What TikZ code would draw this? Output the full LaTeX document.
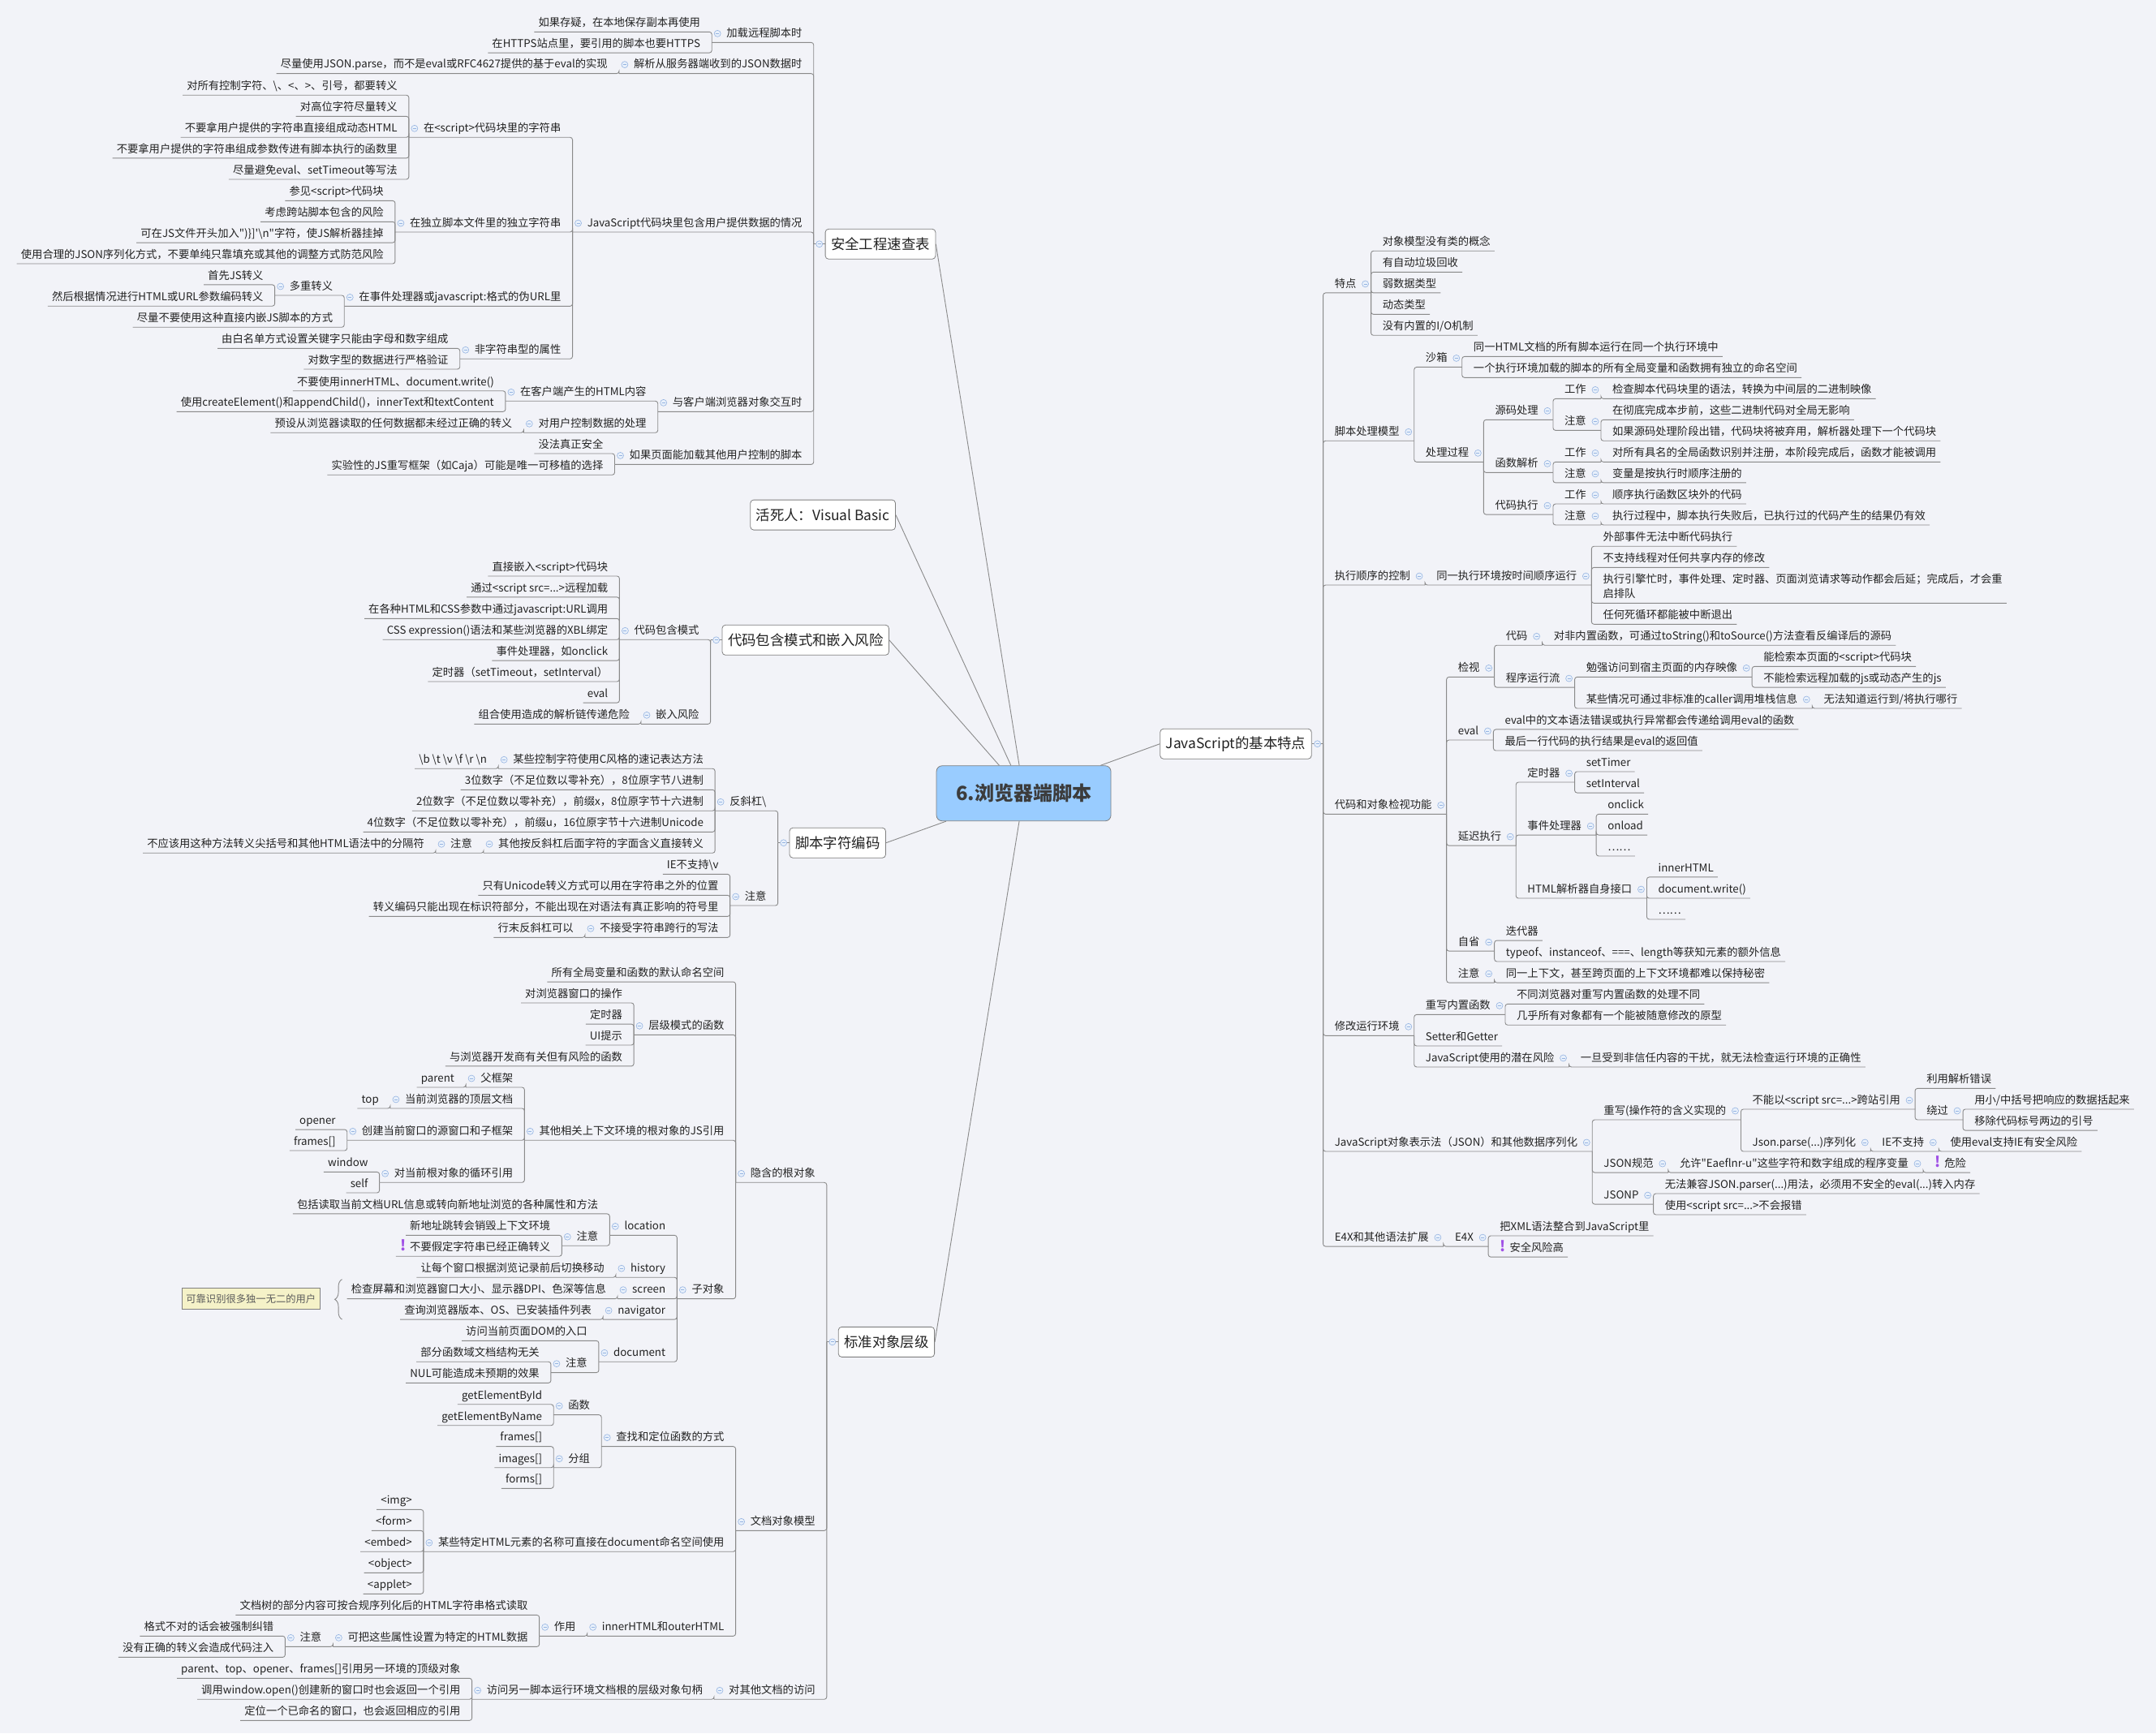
\documentclass[tikz,border=0pt]{standalone}
\usepackage{fontspec}
\setmainfont{Noto Sans CJK SC}
\usetikzlibrary{positioning,backgrounds,decorations.pathreplacing}
\definecolor{bgc}{RGB}{242,243,248}
\definecolor{linec}{RGB}{138,138,138}
\definecolor{ink}{RGB}{34,34,34}
\definecolor{boxline}{RGB}{128,128,128}
\definecolor{rootfill}{RGB}{153,204,255}
\definecolor{rootink}{RGB}{60,60,60}
\definecolor{iconfill}{RGB}{232,240,251}
\definecolor{iconline}{RGB}{150,180,225}
\definecolor{summfill}{RGB}{245,242,200}
\definecolor{summink}{RGB}{90,90,90}
\definecolor{alert}{RGB}{160,80,230}
\newcommand{\warnmark}{{\color{alert}\fontsize{18}{18}\selectfont\bfseries !}\hspace{5pt}}
\tikzset{
  item/.style={inner xsep=0pt, inner ysep=3.5pt, text height=10pt, text depth=3pt,
    font=\fontsize{13.3}{18.6}\selectfont, text=ink},
  lleaf/.style={item, anchor=south east,
    execute at begin node=\hspace{5pt}, execute at end node=\hspace{14pt}},
  lnode/.style={item, anchor=south east,
    execute at begin node=\hspace{18pt}, execute at end node=\hspace{14pt}},
  rleaf/.style={item, anchor=south west,
    execute at begin node=\hspace{14pt}, execute at end node=\hspace{5pt}},
  rnode/.style={item, anchor=south west,
    execute at begin node=\hspace{14pt}, execute at end node=\hspace{18pt}},
  icon/.style={circle, draw=iconline, fill=iconfill, minimum size=8pt, inner sep=0pt, line width=0.6pt,
    path picture={\draw[iconline, line width=0.8pt] ([xshift=-2pt]path picture bounding box.center)
      -- ([xshift=2pt]path picture bounding box.center);}},
  topic/.style={draw=boxline, fill=white, rounded corners=4pt, inner xsep=7pt, minimum height=37pt,
    line width=0.8pt, font=\fontsize{17.4}{20}\selectfont, text=ink},
  root/.style={draw=boxline, fill=rootfill, rounded corners=7pt, minimum width=215pt, minimum height=68pt,
    line width=0.8pt, font=\fontsize{24}{28}\selectfont\bfseries, text=rootink},
  lconn/.style={draw=linec, line width=0.9pt, rounded corners=3pt},
  cline/.style={draw=linec, line width=0.9pt},
  brace/.style={draw=linec, line width=0.9pt, decorate, decoration={brace, amplitude=9pt}},
  summ/.style={draw=boxline, fill=summfill, line width=0.6pt, minimum height=26pt, inner xsep=5pt,
    font=\fontsize{12.3}{14}\selectfont, text=summink},
}
\begin{document}
\begin{tikzpicture}[x=1.6945pt,y=-1.6945pt]
      \useasboundingbox (0,0) rectangle (1568,1260.6);
      \node[root] (c) at (744.5,577) {6.浏览器端脚本};
      \node[topic, anchor=west] (sec) at (600,177.5) {安全工程速查表};
      \node[topic, anchor=west] (vb) at (545.5,374.5) {活死人：Visual Basic};
      \node[topic, anchor=west] (emb) at (525,465.5) {代码包含模式和嵌入风险};
      \node[topic, anchor=west] (enc) at (574,613) {脚本字符编码};
      \node[topic, anchor=west] (std) at (609.5,976) {标准对象层级};
      \node[topic, anchor=east] (jsb) at (954,541) {JavaScript的基本特点};
      \coordinate (secb) at ([xshift=-14pt]sec.west);
      \coordinate (embb) at ([xshift=-14pt]emb.west);
      \coordinate (encb) at ([xshift=-14pt]enc.west);
      \coordinate (stdb) at ([xshift=-14pt]std.west);
      \coordinate (jsbb) at ([xshift=14pt]jsb.east);

      \node[lnode] (s1) at (secb |- 0,30.9) {加载远程脚本时};
      \node[lleaf] (s1a) at (s1.south west |- 0,23.2) {如果存疑，在本地保存副本再使用};
      \node[lleaf] (s1b) at (s1.south west |- 0,38.4) {在HTTPS站点里，要引用的脚本也要HTTPS};
      \node[lnode] (s2) at (secb |- 0,53.5) {解析从服务器端收到的JSON数据时};
      \node[lleaf] (s2a) at (s2.south west |- 0,53.5) {尽量使用JSON.parse，而不是eval或RFC4627提供的基于eval的实现};
      \node[lnode] (s3) at (secb |- 0,168.8) {JavaScript代码块里包含用户提供数据的情况};
      \node[lnode] (s3a) at (s3.south west |- 0,99.9) {在<script>代码块里的字符串};
      \node[lleaf] (s3a1) at (s3a.south west |- 0,69.2) {对所有控制字符、\textbackslash、<、>、引号，都要转义};
      \node[lleaf] (s3a2) at (s3a.south west |- 0,84.6) {对高位字符尽量转义};
      \node[lleaf] (s3a3) at (s3a.south west |- 0,99.9) {不要拿用户提供的字符串直接组成动态HTML};
      \node[lleaf] (s3a4) at (s3a.south west |- 0,115) {不要拿用户提供的字符串组成参数传进有脚本执行的函数里};
      \node[lleaf] (s3a5) at (s3a.south west |- 0,130.4) {尽量避免eval、setTimeout等写法};
      \node[lnode] (s3b) at (s3.south west |- 0,168.8) {在独立脚本文件里的独立字符串};
      \node[lleaf] (s3b1) at (s3b.south west |- 0,146) {参见<script>代码块};
      \node[lleaf] (s3b2) at (s3b.south west |- 0,161.3) {考虑跨站脚本包含的风险};
      \node[lleaf] (s3b3) at (s3b.south west |- 0,176.5) {可在JS文件开头加入\textquotedbl)\}]\textquotesingle\textbackslash n\textquotedbl 字符，使JS解析器挂掉};
      \node[lleaf] (s3b4) at (s3b.south west |- 0,191.8) {使用合理的JSON序列化方式，不要单纯只靠填充或其他的调整方式防范风险};
      \node[lnode] (s3c) at (s3.south west |- 0,222.7) {在事件处理器或javascript:格式的伪URL里};
      \node[lnode] (s3c1) at (s3c.south west |- 0,214.8) {多重转义};
      \node[lleaf] (s3c1a) at (s3c1.south west |- 0,207.1) {首先JS转义};
      \node[lleaf] (s3c1b) at (s3c1.south west |- 0,222.6) {然后根据情况进行HTML或URL参数编码转义};
      \node[lleaf] (s3c2) at (s3c.south west |- 0,238) {尽量不要使用这种直接内嵌JS脚本的方式};
      \node[lnode] (s3d) at (s3.south west |- 0,261) {非字符串型的属性};
      \node[lleaf] (s3d1) at (s3d.south west |- 0,253.4) {由白名单方式设置关键字只能由字母和数字组成};
      \node[lleaf] (s3d2) at (s3d.south west |- 0,268.5) {对数字型的数据进行严格验证};
      \node[lnode] (s4) at (secb |- 0,299.4) {与客户端浏览器对象交互时};
      \node[lnode] (s4a) at (s4.south west |- 0,291.7) {在客户端产生的HTML内容};
      \node[lleaf] (s4a1) at (s4a.south west |- 0,284.3) {不要使用innerHTML、document.write()};
      \node[lleaf] (s4a2) at (s4a.south west |- 0,299.4) {使用createElement()和appendChild()，innerText和textContent};
      \node[lnode] (s4b) at (s4.south west |- 0,314.7) {对用户控制数据的处理};
      \node[lleaf] (s4b1) at (s4b.south west |- 0,314.7) {预设从浏览器读取的任何数据都未经过正确的转义};
      \node[lnode] (s5) at (secb |- 0,337.8) {如果页面能加载其他用户控制的脚本};
      \node[lleaf] (s5a) at (s5.south west |- 0,329.9) {没法真正安全};
      \node[lleaf] (s5b) at (s5.south west |- 0,345.4) {实验性的JS重写框架（如Caja）可能是唯一可移植的选择};

      \node[lnode] (e1) at (embb |- 0,465.2) {代码包含模式};
      \node[lleaf] (e1a) at (e1.south west |- 0,419) {直接嵌入<script>代码块};
      \node[lleaf] (e1b) at (e1.south west |- 0,434.3) {通过<script src=...>远程加载};
      \node[lleaf] (e1c) at (e1.south west |- 0,449.9) {在各种HTML和CSS参数中通过javascript:URL调用};
      \node[lleaf] (e1d) at (e1.south west |- 0,465.2) {CSS expression()语法和某些浏览器的XBL绑定};
      \node[lleaf] (e1e) at (e1.south west |- 0,480.4) {事件处理器，如onclick};
      \node[lleaf] (e1f) at (e1.south west |- 0,495.7) {定时器（setTimeout，setInterval）};
      \node[lleaf] (e1g) at (e1.south west |- 0,511.1) {eval};
      \node[lnode] (e2) at (embb |- 0,526.6) {嵌入风险};
      \node[lleaf] (e2a) at (e2.south west |- 0,526.6) {组合使用造成的解析链传递危险};

      \node[lnode] (c1) at (encb |- 0,589.7) {反斜杠\textbackslash};
      \node[lnode] (c1a) at (c1.south west |- 0,559) {某些控制字符使用C风格的速记表达方法};
      \node[lleaf] (c1a1) at (c1a.south west |- 0,559) {\textbackslash b \textbackslash t \textbackslash v \textbackslash f \textbackslash r \textbackslash n};
      \node[lleaf] (c1b) at (c1.south west |- 0,574.4) {3位数字（不足位数以零补充），8位原字节八进制};
      \node[lleaf] (c1c) at (c1.south west |- 0,589.7) {2位数字（不足位数以零补充），前缀x，8位原字节十六进制};
      \node[lleaf] (c1d) at (c1.south west |- 0,605.1) {4位数字（不足位数以零补充），前缀u，16位原字节十六进制Unicode};
      \node[lnode] (c1e) at (c1.south west |- 0,620.4) {其他按反斜杠后面字符的字面含义直接转义};
      \node[lnode] (c1e1) at (c1e.south west |- 0,620.4) {注意};
      \node[lleaf] (c1e1a) at (c1e1.south west |- 0,620.4) {不应该用这种方法转义尖括号和其他HTML语法中的分隔符};
      \node[lnode] (c2) at (encb |- 0,658.6) {注意};
      \node[lleaf] (c2a) at (c2.south west |- 0,635.8) {IE不支持\textbackslash v};
      \node[lleaf] (c2b) at (c2.south west |- 0,651.1) {只有Unicode转义方式可以用在字符串之外的位置};
      \node[lleaf] (c2c) at (c2.south west |- 0,666.5) {转义编码只能出现在标识符部分，不能出现在对语法有真正影响的符号里};
      \node[lnode] (c2d) at (c2.south west |- 0,681.8) {不接受字符串跨行的写法};
      \node[lleaf] (c2d1) at (c2d.south west |- 0,681.8) {行末反斜杠可以};

      \node[lnode] (t1) at (stdb |- 0,860) {隐含的根对象};
      \node[lleaf] (t1a) at (t1.south west |- 0,714.1) {所有全局变量和函数的默认命名空间};
      \node[lnode] (t1b) at (t1.south west |- 0,752.6) {层级模式的函数};
      \node[lleaf] (t1b1) at (t1b.south west |- 0,729.4) {对浏览器窗口的操作};
      \node[lleaf] (t1b2) at (t1b.south west |- 0,744.8) {定时器};
      \node[lleaf] (t1b3) at (t1b.south west |- 0,760.1) {UI提示};
      \node[lleaf] (t1b4) at (t1b.south west |- 0,775.4) {与浏览器开发商有关但有风险的函数};
      \node[lnode] (t1c) at (t1.south west |- 0,829.3) {其他相关上下文环境的根对象的JS引用};
      \node[lnode] (t1c1) at (t1c.south west |- 0,790.8) {父框架};
      \node[lleaf] (t1c1a) at (t1c1.south west |- 0,790.8) {parent};
      \node[lnode] (t1c2) at (t1c.south west |- 0,806.1) {当前浏览器的顶层文档};
      \node[lleaf] (t1c2a) at (t1c2.south west |- 0,806.1) {top};
      \node[lnode] (t1c3) at (t1c.south west |- 0,829.3) {创建当前窗口的源窗口和子框架};
      \node[lleaf] (t1c3a) at (t1c3.south west |- 0,821.5) {opener};
      \node[lleaf] (t1c3b) at (t1c3.south west |- 0,836.8) {frames[]};
      \node[lnode] (t1c4) at (t1c.south west |- 0,860) {对当前根对象的循环引用};
      \node[lleaf] (t1c4a) at (t1c4.south west |- 0,852.4) {window};
      \node[lleaf] (t1c4b) at (t1c4.south west |- 0,867.5) {self};
      \node[lnode] (t1d) at (t1.south west |- 0,944.6) {子对象};
      \node[lnode] (t1d1) at (t1d.south west |- 0,898.4) {location};
      \node[lleaf] (t1d1a) at (t1d1.south west |- 0,882.8) {包括读取当前文档URL信息或转向新地址浏览的各种属性和方法};
      \node[lnode] (t1d1b) at (t1d1.south west |- 0,906) {注意};
      \node[lleaf] (t1d1b1) at (t1d1b.south west |- 0,898.4) {新地址跳转会销毁上下文环境};
      \node[lleaf] (t1d1b2) at (t1d1b.south west |- 0,913.7) {\warnmark 不要假定字符串已经正确转义};
      \node[lnode] (t1d2) at (t1d.south west |- 0,929) {history};
      \node[lleaf] (t1d2a) at (t1d2.south west |- 0,929) {让每个窗口根据浏览记录前后切换移动};
      \node[lnode] (t1d3) at (t1d.south west |- 0,944.6) {screen};
      \node[lleaf] (t1d3a) at (t1d3.south west |- 0,944.6) {检查屏幕和浏览器窗口大小、显示器DPI、色深等信息};
      \node[lnode] (t1d4) at (t1d.south west |- 0,959.6) {navigator};
      \node[lleaf] (t1d4a) at (t1d4.south west |- 0,959.6) {查询浏览器版本、OS、已安装插件列表};
      \node[lnode] (t1d5) at (t1d.south west |- 0,990.4) {document};
      \node[lleaf] (t1d5a) at (t1d5.south west |- 0,975.1) {访问当前页面DOM的入口};
      \node[lnode] (t1d5b) at (t1d5.south west |- 0,998.3) {注意};
      \node[lleaf] (t1d5b1) at (t1d5b.south west |- 0,990.4) {部分函数域文档结构无关};
      \node[lleaf] (t1d5b2) at (t1d5b.south west |- 0,1005.8) {NUL可能造成未预期的效果};
      \node[lnode] (t2) at (stdb |- 0,1113.2) {文档对象模型};
      \node[lnode] (t2a) at (t2.south west |- 0,1052) {查找和定位函数的方式};
      \node[lnode] (t2a1) at (t2a.south west |- 0,1029) {函数};
      \node[lleaf] (t2a1a) at (t2a1.south west |- 0,1021.4) {getElementById};
      \node[lleaf] (t2a1b) at (t2a1.south west |- 0,1036.7) {getElementByName};
      \node[lnode] (t2a2) at (t2a.south west |- 0,1067.4) {分组};
      \node[lleaf] (t2a2a) at (t2a2.south west |- 0,1052) {frames[]};
      \node[lleaf] (t2a2b) at (t2a2.south west |- 0,1067.4) {images[]};
      \node[lleaf] (t2a2c) at (t2a2.south west |- 0,1082.5) {forms[]};
      \node[lnode] (t2b) at (t2.south west |- 0,1128.5) {某些特定HTML元素的名称可直接在document命名空间使用};
      \node[lleaf] (t2b1) at (t2b.south west |- 0,1097.9) {<img>};
      \node[lleaf] (t2b2) at (t2b.south west |- 0,1113.2) {<form>};
      \node[lleaf] (t2b3) at (t2b.south west |- 0,1128.5) {<embed>};
      \node[lleaf] (t2b4) at (t2b.south west |- 0,1143.9) {<object>};
      \node[lleaf] (t2b5) at (t2b.south west |- 0,1159.2) {<applet>};
      \node[lnode] (t2c) at (t2.south west |- 0,1189.9) {innerHTML和outerHTML};
      \node[lnode] (t2c1) at (t2c.south west |- 0,1189.9) {作用};
      \node[lleaf] (t2c1a) at (t2c1.south west |- 0,1174.6) {文档树的部分内容可按合规序列化后的HTML字符串格式读取};
      \node[lnode] (t2c1b) at (t2c1.south west |- 0,1197.6) {可把这些属性设置为特定的HTML数据};
      \node[lnode] (t2c1b1) at (t2c1b.south west |- 0,1197.6) {注意};
      \node[lleaf] (t2c1b1a) at (t2c1b1.south west |- 0,1189.9) {格式不对的话会被强制纠错};
      \node[lleaf] (t2c1b1b) at (t2c1b1.south west |- 0,1205.3) {没有正确的转义会造成代码注入};
      \node[lnode] (t3) at (stdb |- 0,1235.9) {对其他文档的访问};
      \node[lnode] (t3a) at (t3.south west |- 0,1235.9) {访问另一脚本运行环境文档根的层级对象句柄};
      \node[lleaf] (t3a1) at (t3a.south west |- 0,1220.6) {parent、top、opener、frames[]引用另一环境的顶级对象};
      \node[lleaf] (t3a2) at (t3a.south west |- 0,1235.9) {调用window.open()创建新的窗口时也会返回一个引用};
      \node[lleaf] (t3a3) at (t3a.south west |- 0,1251.3) {定位一个已命名的窗口，也会返回相应的引用};

      \node[rnode] (r1) at (jsbb |- 0,213) {特点};
      \node[rleaf] (r1a) at (r1.south east |- 0,182.5) {对象模型没有类的概念};
      \node[rleaf] (r1b) at (r1.south east |- 0,197.9) {有自动垃圾回收};
      \node[rleaf] (r1c) at (r1.south east |- 0,213) {弱数据类型};
      \node[rleaf] (r1d) at (r1.south east |- 0,228.6) {动态类型};
      \node[rleaf] (r1e) at (r1.south east |- 0,243.9) {没有内置的I/O机制};
      \node[rnode] (r2) at (jsbb |- 0,320.6) {脚本处理模型};
      \node[rnode] (r2a) at (r2.south east |- 0,267) {沙箱};
      \node[rleaf] (r2a1) at (r2a.south east |- 0,259.3) {同一HTML文档的所有脚本运行在同一个执行环境中};
      \node[rleaf] (r2a2) at (r2a.south east |- 0,274.6) {一个执行环境加载的脚本的所有全局变量和函数拥有独立的命名空间};
      \node[rnode] (r2b) at (r2.south east |- 0,336) {处理过程};
      \node[rnode] (r2b1) at (r2b.south east |- 0,305.3) {源码处理};
      \node[rnode] (r2b1a) at (r2b1.south east |- 0,290) {工作};
      \node[rleaf] (r2b1a1) at (r2b1a.south east |- 0,290) {检查脚本代码块里的语法，转换为中间层的二进制映像};
      \node[rnode] (r2b1b) at (r2b1.south east |- 0,313) {注意};
      \node[rleaf] (r2b1b1) at (r2b1b.south east |- 0,305.3) {在彻底完成本步前，这些二进制代码对全局无影响};
      \node[rleaf] (r2b1b2) at (r2b1b.south east |- 0,320.6) {如果源码处理阶段出错，代码块将被弃用，解析器处理下一个代码块};
      \node[rnode] (r2b2) at (r2b.south east |- 0,343.7) {函数解析};
      \node[rnode] (r2b2a) at (r2b2.south east |- 0,336) {工作};
      \node[rleaf] (r2b2a1) at (r2b2a.south east |- 0,336) {对所有具名的全局函数识别并注册，本阶段完成后，函数才能被调用};
      \node[rnode] (r2b2b) at (r2b2.south east |- 0,351.1) {注意};
      \node[rleaf] (r2b2b1) at (r2b2b.south east |- 0,351.1) {变量是按执行时顺序注册的};
      \node[rnode] (r2b3) at (r2b.south east |- 0,374.2) {代码执行};
      \node[rnode] (r2b3a) at (r2b3.south east |- 0,366.5) {工作};
      \node[rleaf] (r2b3a1) at (r2b3a.south east |- 0,366.5) {顺序执行函数区块外的代码};
      \node[rnode] (r2b3b) at (r2b3.south east |- 0,381.8) {注意};
      \node[rleaf] (r2b3b1) at (r2b3b.south east |- 0,381.8) {执行过程中，脚本执行失败后，已执行过的代码产生的结果仍有效};
      \node[rnode] (r3) at (jsbb |- 0,425.5) {执行顺序的控制};
      \node[rnode] (r3a) at (r3.south east |- 0,425.5) {同一执行环境按时间顺序运行};
      \node[rleaf] (r3a1) at (r3a.south east |- 0,397.3) {外部事件无法中断代码执行};
      \node[rleaf] (r3a2) at (r3a.south east |- 0,412.7) {不支持线程对任何共享内存的修改};
      \node[rleaf] (r3a3) at (r3a.south east |- 0,438.7) {\begin{tabular}[b]{@{}l@{}}执行引擎忙时，事件处理、定时器、页面浏览请求等动作都会后延；完成后，才会重\\启排队\end{tabular}};
      \node[rleaf] (r3a4) at (r3a.south east |- 0,454) {任何死循环都能被中断退出};
      \node[rnode] (r4) at (jsbb |- 0,592.1) {代码和对象检视功能};
      \node[rnode] (r4a) at (r4.south east |- 0,492.4) {检视};
      \node[rnode] (r4a1) at (r4a.south east |- 0,469.3) {代码};
      \node[rleaf] (r4a1a) at (r4a1.south east |- 0,469.3) {对非内置函数，可通过toString()和toSource()方法查看反编译后的源码};
      \node[rnode] (r4a2) at (r4a.south east |- 0,499.9) {程序运行流};
      \node[rnode] (r4a2a) at (r4a2.south east |- 0,492.4) {勉强访问到宿主页面的内存映像};
      \node[rleaf] (r4a2a1) at (r4a2a.south east |- 0,484.7) {能检索本页面的<script>代码块};
      \node[rleaf] (r4a2a2) at (r4a2a.south east |- 0,499.9) {不能检索远程加载的js或动态产生的js};
      \node[rnode] (r4a2b) at (r4a2.south east |- 0,515.2) {某些情况可通过非标准的caller调用堆栈信息};
      \node[rleaf] (r4a2b1) at (r4a2b.south east |- 0,515.2) {无法知道运行到/将执行哪行};
      \node[rnode] (r4b) at (r4.south east |- 0,538.2) {eval};
      \node[rleaf] (r4b1) at (r4b.south east |- 0,530.5) {eval中的文本语法错误或执行异常都会传递给调用eval的函数};
      \node[rleaf] (r4b2) at (r4b.south east |- 0,545.9) {最后一行代码的执行结果是eval的返回值};
      \node[rnode] (r4c) at (r4.south east |- 0,615) {延迟执行};
      \node[rnode] (r4c1) at (r4c.south east |- 0,568.9) {定时器};
      \node[rleaf] (r4c1a) at (r4c1.south east |- 0,561.2) {setTimer};
      \node[rleaf] (r4c1b) at (r4c1.south east |- 0,576.6) {setInterval};
      \node[rnode] (r4c2) at (r4c.south east |- 0,607.3) {事件处理器};
      \node[rleaf] (r4c2a) at (r4c2.south east |- 0,592.1) {onclick};
      \node[rleaf] (r4c2b) at (r4c2.south east |- 0,607.3) {onload};
      \node[rleaf] (r4c2c) at (r4c2.south east |- 0,622.6) {……};
      \node[rnode] (r4c3) at (r4c.south east |- 0,653.3) {HTML解析器自身接口};
      \node[rleaf] (r4c3a) at (r4c3.south east |- 0,637.9) {innerHTML};
      \node[rleaf] (r4c3b) at (r4c3.south east |- 0,653.3) {document.write()};
      \node[rleaf] (r4c3c) at (r4c3.south east |- 0,668.6) {……};
      \node[rnode] (r4d) at (r4.south east |- 0,691.7) {自省};
      \node[rleaf] (r4d1) at (r4d.south east |- 0,684) {迭代器};
      \node[rleaf] (r4d2) at (r4d.south east |- 0,699.3) {typeof、instanceof、===、length等获知元素的额外信息};
      \node[rnode] (r4e) at (r4.south east |- 0,714.7) {注意};
      \node[rleaf] (r4e1) at (r4e.south east |- 0,714.7) {同一上下文，甚至跨页面的上下文环境都难以保持秘密};
      \node[rnode] (r5) at (jsbb |- 0,753.2) {修改运行环境};
      \node[rnode] (r5a) at (r5.south east |- 0,737.9) {重写内置函数};
      \node[rleaf] (r5a1) at (r5a.south east |- 0,730.2) {不同浏览器对重写内置函数的处理不同};
      \node[rleaf] (r5a2) at (r5a.south east |- 0,745.5) {几乎所有对象都有一个能被随意修改的原型};
      \node[rleaf] (r5b) at (r5.south east |- 0,760.7) {Setter和Getter};
      \node[rnode] (r5c) at (r5.south east |- 0,776) {JavaScript使用的潜在风险};
      \node[rleaf] (r5c1) at (r5c.south east |- 0,776) {一旦受到非信任内容的干扰，就无法检查运行环境的正确性};
      \node[rnode] (r6) at (jsbb |- 0,837.4) {JavaScript对象表示法（JSON）和其他数据序列化};
      \node[rnode] (r6a) at (r6.south east |- 0,814.4) {重写(操作符的含义实现的};
      \node[rnode] (r6a1) at (r6a.south east |- 0,806.7) {不能以<script src=...>跨站引用};
      \node[rleaf] (r6a1a) at (r6a1.south east |- 0,791.6) {利用解析错误};
      \node[rnode] (r6a1b) at (r6a1.south east |- 0,814.4) {绕过};
      \node[rleaf] (r6a1b1) at (r6a1b.south east |- 0,806.7) {用小/中括号把响应的数据括起来};
      \node[rleaf] (r6a1b2) at (r6a1b.south east |- 0,822.1) {移除代码标号两边的引号};
      \node[rnode] (r6a2) at (r6a.south east |- 0,837.4) {Json.parse(...)序列化};
      \node[rnode] (r6a2a) at (r6a2.south east |- 0,837.4) {IE不支持};
      \node[rleaf] (r6a2a1) at (r6a2a.south east |- 0,837.4) {使用eval支持IE有安全风险};
      \node[rnode] (r6b) at (r6.south east |- 0,852.8) {JSON规范};
      \node[rnode] (r6b1) at (r6b.south east |- 0,852.8) {允许\textquotedbl Eaeflnr-u\textquotedbl 这些字符和数字组成的程序变量};
      \node[rleaf] (r6b1a) at (r6b1.south east |- 0,852.8) {\warnmark 危险};
      \node[rnode] (r6c) at (r6.south east |- 0,875.8) {JSONP};
      \node[rleaf] (r6c1) at (r6c.south east |- 0,868.1) {无法兼容JSON.parser(...)用法，必须用不安全的eval(...)转入内存};
      \node[rleaf] (r6c2) at (r6c.south east |- 0,883.4) {使用<script src=...>不会报错};
      \node[rnode] (r7) at (jsbb |- 0,906.5) {E4X和其他语法扩展};
      \node[rnode] (r7a) at (r7.south east |- 0,906.5) {E4X};
      \node[rleaf] (r7a1) at (r7a.south east |- 0,898.8) {把XML语法整合到JavaScript里};
      \node[rleaf] (r7a2) at (r7a.south east |- 0,914.2) {\warnmark 安全风险高};

      \coordinate (bt) at ([shift={(-6pt,24pt)}]t1d3a.south west);
      \coordinate (bb) at (bt |- t1d4a.south);
      \coordinate (bm) at (bt |- t1d3a.south);
      \draw[brace] (bb) -- (bt);
      \node[summ, left=27pt of bm] (sum) {可靠识别很多独一无二的用户};

      \foreach \bx in {sec,emb,enc,std} \node[icon] at ([xshift=-7pt]\bx.west) {};
      \node[icon] at ([xshift=7pt]jsb.east) {};
      \foreach \nd in {s1,s2,s3,s3a,s3b,s3c,s3c1,s3d,s4,s4a,s4b,s5,e1,e2,c1,c1a,c1e,c1e1,c2,c2d,
        t1,t1b,t1c,t1c1,t1c2,t1c3,t1c4,t1d,t1d1,t1d1b,t1d2,t1d3,t1d4,t1d5,t1d5b,
        t2,t2a,t2a1,t2a2,t2b,t2c,t2c1,t2c1b,t2c1b1,t3,t3a}
        \node[icon] at ([shift={(7pt,11pt)}]\nd.south west) {};
      \foreach \nd in {r1,r2,r2a,r2b,r2b1,r2b1a,r2b1b,r2b2,r2b2a,r2b2b,r2b3,r2b3a,r2b3b,r3,r3a,
        r4,r4a,r4a1,r4a2,r4a2a,r4a2b,r4b,r4c,r4c1,r4c2,r4c3,r4d,r4e,r5,r5a,r5c,
        r6,r6a,r6a1,r6a1b,r6a2,r6a2a,r6b,r6b1,r6c,r7,r7a}
        \node[icon] at ([shift={(-7pt,11pt)}]\nd.south east) {};

      \begin{scope}[on background layer]
        \fill[bgc] (0,0) rectangle (1568,1260.6);
        \foreach \bx in {sec,vb,emb,enc,std} \draw[cline] (c) -- (\bx.east);
        \draw[cline] (c) -- (jsb.west);
        \draw[lconn] (secb) -- (sec.west);
        \draw[lconn] (embb) -- (emb.west);
        \draw[lconn] (encb) -- (enc.west);
        \draw[lconn] (stdb) -- (std.west);
        \draw[lconn] (jsbb) -- (jsb.east);
        \foreach \up/\ch in {secb/s1,secb/s2,secb/s3,secb/s4,secb/s5,embb/e1,embb/e2,
          encb/c1,encb/c2,stdb/t1,stdb/t2,stdb/t3}
          \draw[lconn] (\ch.south west) -- (\ch.south east) -- (\up);
        \foreach \ch in {r1,r2,r3,r4,r5,r6,r7}
          \draw[lconn] (\ch.south east) -- (\ch.south west) -- (jsbb);
        \foreach \up/\ch in {s1/s1a,s1/s1b,s2/s2a,s3/s3a,s3/s3b,s3/s3c,s3/s3d,
          s3a/s3a1,s3a/s3a2,s3a/s3a3,s3a/s3a4,s3a/s3a5,s3b/s3b1,s3b/s3b2,s3b/s3b3,s3b/s3b4,
          s3c/s3c1,s3c/s3c2,s3c1/s3c1a,s3c1/s3c1b,s3d/s3d1,s3d/s3d2,
          s4/s4a,s4/s4b,s4a/s4a1,s4a/s4a2,s4b/s4b1,s5/s5a,s5/s5b,
          e1/e1a,e1/e1b,e1/e1c,e1/e1d,e1/e1e,e1/e1f,e1/e1g,e2/e2a,
          c1/c1a,c1a/c1a1,c1/c1b,c1/c1c,c1/c1d,c1/c1e,c1e/c1e1,c1e1/c1e1a,
          c2/c2a,c2/c2b,c2/c2c,c2/c2d,c2d/c2d1,
          t1/t1a,t1/t1b,t1/t1c,t1/t1d,t1b/t1b1,t1b/t1b2,t1b/t1b3,t1b/t1b4,
          t1c/t1c1,t1c/t1c2,t1c/t1c3,t1c/t1c4,t1c1/t1c1a,t1c2/t1c2a,t1c3/t1c3a,t1c3/t1c3b,
          t1c4/t1c4a,t1c4/t1c4b,t1d/t1d1,t1d/t1d2,t1d/t1d3,t1d/t1d4,t1d/t1d5,
          t1d1/t1d1a,t1d1/t1d1b,t1d1b/t1d1b1,t1d1b/t1d1b2,t1d2/t1d2a,t1d3/t1d3a,t1d4/t1d4a,
          t1d5/t1d5a,t1d5/t1d5b,t1d5b/t1d5b1,t1d5b/t1d5b2,
          t2/t2a,t2/t2b,t2/t2c,t2a/t2a1,t2a/t2a2,t2a1/t2a1a,t2a1/t2a1b,
          t2a2/t2a2a,t2a2/t2a2b,t2a2/t2a2c,t2b/t2b1,t2b/t2b2,t2b/t2b3,t2b/t2b4,t2b/t2b5,
          t2c/t2c1,t2c1/t2c1a,t2c1/t2c1b,t2c1b/t2c1b1,t2c1b1/t2c1b1a,t2c1b1/t2c1b1b,
          t3/t3a,t3a/t3a1,t3a/t3a2,t3a/t3a3}
          \draw[lconn] (\ch.south west) -- (\ch.south east) -- (\up.south west);
        \foreach \up/\ch in {r1/r1a,r1/r1b,r1/r1c,r1/r1d,r1/r1e,r2/r2a,r2/r2b,r2a/r2a1,r2a/r2a2,
          r2b/r2b1,r2b/r2b2,r2b/r2b3,r2b1/r2b1a,r2b1/r2b1b,r2b1a/r2b1a1,r2b1b/r2b1b1,r2b1b/r2b1b2,
          r2b2/r2b2a,r2b2/r2b2b,r2b2a/r2b2a1,r2b2b/r2b2b1,r2b3/r2b3a,r2b3/r2b3b,r2b3a/r2b3a1,r2b3b/r2b3b1,
          r3/r3a,r3a/r3a1,r3a/r3a2,r3a/r3a3,r3a/r3a4,
          r4/r4a,r4/r4b,r4/r4c,r4/r4d,r4/r4e,r4a/r4a1,r4a/r4a2,r4a1/r4a1a,r4a2/r4a2a,r4a2/r4a2b,
          r4a2a/r4a2a1,r4a2a/r4a2a2,r4a2b/r4a2b1,r4b/r4b1,r4b/r4b2,r4c/r4c1,r4c/r4c2,r4c/r4c3,
          r4c1/r4c1a,r4c1/r4c1b,r4c2/r4c2a,r4c2/r4c2b,r4c2/r4c2c,r4c3/r4c3a,r4c3/r4c3b,r4c3/r4c3c,
          r4d/r4d1,r4d/r4d2,r4e/r4e1,r5/r5a,r5/r5b,r5/r5c,r5a/r5a1,r5a/r5a2,r5c/r5c1,
          r6/r6a,r6/r6b,r6/r6c,r6a/r6a1,r6a/r6a2,r6a1/r6a1a,r6a1/r6a1b,r6a1b/r6a1b1,r6a1b/r6a1b2,
          r6a2/r6a2a,r6a2a/r6a2a1,r6b/r6b1,r6b1/r6b1a,r6c/r6c1,r6c/r6c2,r7/r7a,r7a/r7a1,r7a/r7a2}
          \draw[lconn] (\ch.south east) -- (\ch.south west) -- (\up.south east);
      \end{scope}
\end{tikzpicture}
\end{document}
